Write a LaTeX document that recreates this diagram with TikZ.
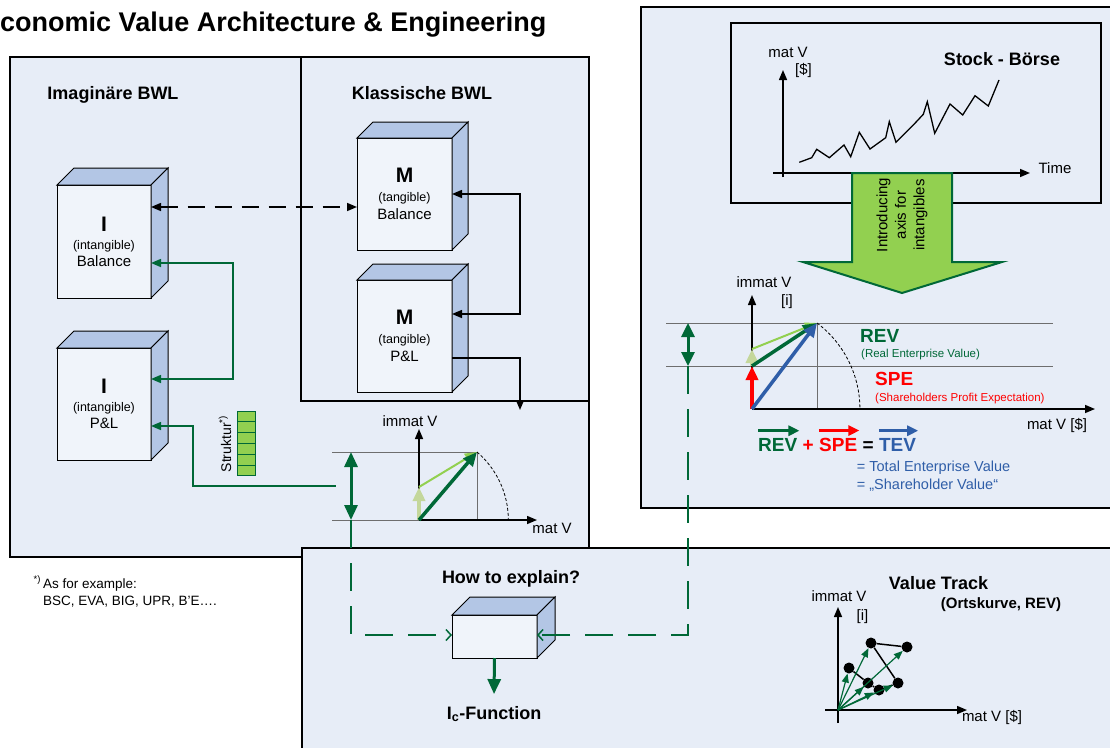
\documentclass[tikz,border=0pt]{standalone}
\usepackage{fontspec}
\setmainfont{Liberation Sans}
\usepackage{tikz}
\usetikzlibrary{arrows.meta, calc, positioning}

\definecolor{panelbg}{RGB}{231,237,247}
\definecolor{cubefront}{RGB}{240,244,250}
\definecolor{cubeside}{RGB}{179,198,229}
\definecolor{darkgreen}{RGB}{0,104,55}
\definecolor{lightgreen}{RGB}{146,208,80}
\definecolor{palegreen}{RGB}{196,215,155}
\definecolor{tevblue}{RGB}{47,94,168}
\definecolor{linegray}{RGB}{110,110,110}

\newcommand{\fs}[1]{\fontsize{#1}{17pt}\selectfont}
\newcommand{\cubeback}[2]{%
    \filldraw[fill=cubeside, draw=black, line width=1pt] (#1.north west) -- ++(#2,-#2) -- ($(#1.north east)+(#2,-#2)$) -- (#1.north east) -- cycle;
    \filldraw[fill=cubeside, draw=black, line width=1pt] (#1.north east) -- ($(#1.north east)+(#2,-#2)$) -- ($(#1.south east)+(#2,-#2)$) -- (#1.south east) -- cycle;
}

\tikzset{
    panel/.style={draw=black, fill=panelbg, line width=1.2pt},
    cube/.style={draw=black, fill=cubefront, line width=1pt, inner sep=0pt, outer sep=0pt, align=center, font=\fs{15}},
    heading/.style={font=\fs{18}\bfseries},
    axislabel/.style={font=\fs{15}},
    vector/.style={line width=3.5pt, -{Triangle[length=14pt, width=12pt]}},
    gdash/.style={darkgreen, line width=1.5pt, dash pattern=on 28pt off 15pt, -{Straight Barb[length=5pt, width=11pt]}},
    dot/.style={circle, fill=black, inner sep=0pt, minimum size=11pt},
    eqpart/.style={inner sep=0pt, font=\fs{19}\bfseries}
}

\begin{document}
\begin{tikzpicture}[x=1pt, y=-1pt, >={Triangle[length=10pt, width=8pt]}]
    \useasboundingbox (0,0) rectangle (1110,747);
    \def \cubeDepth {17}
    % Panels
    \draw[panel] (10,57) rectangle (589,557);
    \draw[line width=1.2pt] (301,57) rectangle (589,401);
    \draw[panel] (641,7) rectangle (1120,508);
    \draw[panel] (302,548) rectangle (1120,760);
    \draw[line width=1.2pt] (731,23) rectangle (1101,203);

    % Title and headings
    \node[anchor=base west, inner sep=0pt, font=\fs{27}\bfseries] (title) at (0,31) {conomic Value Architecture \& Engineering};
    \node[heading] (imagHead) at (113,95) {Imaginäre BWL};
    \node[heading] (klassHead) at (422,93) {Klassische BWL};

    % Cubes
    \node[cube, minimum width=94pt, minimum height=113pt] (iBal) at (104,241.5) {{\fs{21}\bfseries I}\\[1pt]{\fs{12.5}(intangible)}\\Balance};
    \cubeback{iBal}{\cubeDepth}
    \node[cube, minimum width=94pt, minimum height=112pt] (iPL) at (104,404) {{\fs{21}\bfseries I}\\[1pt]{\fs{12.5}(intangible)}\\P\&L};
    \cubeback{iPL}{\cubeDepth}
    \node[cube, minimum width=95pt, minimum height=112pt] (mBal) at (404.5,194) {{\fs{21}\bfseries M}\\[2pt]{\fs{12.5}(tangible)}\\[0.7pt]Balance};
    \cubeback{mBal}{16}
    \node[cube, minimum width=95pt, minimum height=112pt] (mPL) at (404.5,336) {{\fs{21}\bfseries M}\\[2pt]{\fs{12.5}(tangible)}\\[0.7pt]P\&L};
    \cubeback{mPL}{16}

    % Connectors between the cubes
    \draw[line width=1.5pt, dash pattern=on 17pt off 10pt, <->] ([yshift=34.5pt]iBal.east) -- ([yshift=-13pt]mBal.west);
    \draw[line width=1.5pt, <->] (mBal.east) -- ++(68,0) |- ([yshift=22pt]mPL.east);
    \coordinate (klassOut) at (520,410);
    \draw[line width=1.5pt, ->] ([yshift=-22pt]mPL.east) -| (klassOut);
    \draw[darkgreen, line width=1.5pt, <->] ([yshift=-21.5pt]iBal.east) -- ++(82,0) |- ([yshift=25pt]iPL.east);
    \coordinate (chartLink) at (336,486);
    \draw[darkgreen, line width=1.5pt, <-] ([yshift=-22pt]iPL.east) -- ++(42,0) |- (chartLink);

    % Struktur bar
    \foreach \i in {0,...,5}
        \draw[fill=lightgreen, draw=darkgreen, line width=1pt] (237,{411+\i*10.8}) rectangle ++(18,10.8);
    \node[rotate=90, font=\fs{14}] (strukLabel) at (225,444) {Struktur\textsuperscript{*)}};

    % Small chart (left)
    \coordinate (mO) at (419,520);
    \coordinate (mTip) at (477,452);
    \coordinate (mPale) at (419,487);
    \coordinate (mHi) at (351,452);
    \coordinate (mLo) at (351,520);
    \draw[linegray, line width=1pt] (332,452) -- (mTip) -- (477,520);
    \draw[linegray, line width=1pt] (332,520) -- (mO);
    \draw[line width=0.8pt, dash pattern=on 3pt off 2pt] (mTip) arc[start angle=-49.5, end angle=0, radius=89.4];
    \draw[line width=1.5pt, ->] (mO) -- (419,429);
    \draw[line width=1.5pt, ->] (mO) -- (537,520);
    \draw[palegreen, vector] (mO) -- (mPale);
    \draw[lightgreen, line width=2pt, -{Triangle[length=12pt, width=10pt]}] (mPale) -- (mTip);
    \draw[darkgreen, vector] (mO) -- (mTip);
    \draw[darkgreen, line width=3pt, {Triangle[length=15pt, width=13pt]}-{Triangle[length=15pt, width=13pt]}] (mHi) -- (mLo);
    \node[axislabel] (mYLabel) at (410,421) {immat V};
    \node[axislabel] (mXLabel) at (552,528) {mat V};

    % Footnote
    \node[anchor=base west, inner sep=0pt, font=\fs{13.5}] (footOne) at (43,588) {\llap{\textsuperscript{*)}\,}As for example:};
    \node[anchor=base west, inner sep=0pt, font=\fs{13.5}] (footTwo) at (43,605) {BSC, EVA, BIG, UPR, B’E….};

    % Stock chart
    \draw[line width=1.5pt, ->] (783,177) -- (783,70);
    \draw[line width=1.5pt, ->] (773,173) -- (1030,173);
    \draw[line width=1.3pt] (799.3,162.3) -- (811.7,157.7) -- (816.7,149.3) -- (829.3,157.7) -- (844,145) -- (850.7,156.7) -- (859.3,132.3) -- (870,149) -- (885.7,137.7) -- (889.3,121.7) -- (896,142.3) -- (913.3,125) -- (923.3,114.3) -- (927.3,101.7) -- (934.7,133.3) -- (950,104) -- (962.7,115) -- (975,95.7) -- (988.3,106) -- (999,80);
    \node[axislabel] (sYLabel) at (788,52) {mat V};
    \node[axislabel] (sYUnit) at (803.5,70.5) {[\$]};
    \node[axislabel] (sXLabel) at (1055,168) {Time};
    \node[heading] (stockHead) at (1002,59) {Stock - Börse};
    % Big arrow
    \filldraw[fill=lightgreen, draw=darkgreen, line width=2pt] (852,173) -- (952,173) -- (952,262) -- (1002,262) -- (902,293) -- (803,262) -- (852,262) -- cycle;
    \node[rotate=90, align=center, font=\fontsize{15}{18.5}\selectfont] (introText) at (902,215) {Introducing\\axis for\\intangibles};

    % Vector chart (right)
    \coordinate (rO) at (752,409);
    \coordinate (rTip) at (817,323);
    \coordinate (rSpe) at (752,366);
    \coordinate (rPale) at (752,349);
    \coordinate (rHi) at (688,323);
    \coordinate (rLo) at (688,366);
    \draw[linegray, line width=1pt] (666,323) -- (1053,323);
    \draw[linegray, line width=1pt] (666,366) -- (1053,366);
    \draw[linegray, line width=1pt] (rTip) -- (817,409);
    \draw[line width=0.8pt, dash pattern=on 3pt off 2pt] (rTip) arc[start angle=-53, end angle=0, radius=107.8];
    \draw[line width=1.5pt, ->] (rO) -- (752,295);
    \draw[line width=1.5pt, ->] (rO) -- (1095,409);
    \draw[red, vector] (rO) -- (rSpe);
    \draw[palegreen, vector] (rSpe) -- (rPale);
    \draw[lightgreen, line width=2pt, -{Triangle[length=12pt, width=10pt]}] (rPale) -- (rTip);
    \draw[darkgreen, vector] (rSpe) -- (rTip);
    \draw[tevblue, vector] (rO) -- (rTip);
    \draw[darkgreen, line width=3pt, {Triangle[length=14pt, width=13pt]}-{Triangle[length=14pt, width=13pt]}] (rHi) -- (rLo);
    \node[axislabel] (rYLabel) at (764,282) {immat V};
    \node[axislabel] (rYUnit) at (787,302) {[i]};
    \node[axislabel] (rXLabel) at (1057,425) {mat V [\$]};
    \node[anchor=west, inner sep=0pt, font=\fs{19}\bfseries, text=darkgreen] (revLabel) at (860,336) {REV};
    \node[anchor=west, inner sep=0pt, font=\fs{11.5}, text=darkgreen] (revText) at (861,355) {(Real Enterprise Value)};
    \node[anchor=west, inner sep=0pt, font=\fs{19}\bfseries, text=red] (speLabel) at (875,379) {SPE};
    \node[anchor=west, inner sep=0pt, font=\fs{11.5}, text=red] (speText) at (875,399) {(Shareholders Profit Expectation)};

    % Equation
    \node[eqpart, anchor=base west, text=darkgreen] (eqRev) at (758,451) {REV};
    \node[eqpart, base right=5pt of eqRev, text=red] (eqPlus) {+};
    \node[eqpart, base right=5pt of eqPlus, text=red] (eqSpe) {SPE};
    \node[eqpart, base right=5pt of eqSpe] (eqIs) {=};
    \node[eqpart, base right=5pt of eqIs, text=tevblue] (eqTev) {TEV};
    \draw[darkgreen, line width=3pt, -{Triangle[length=11pt, width=10pt]}] ([yshift=7pt]eqRev.north west) -- ([xshift=2pt, yshift=7pt]eqRev.north east);
    \draw[red, line width=3pt, -{Triangle[length=11pt, width=10pt]}] ([yshift=7pt]eqSpe.north west) -- ([xshift=2pt, yshift=7pt]eqSpe.north east);
    \draw[tevblue, line width=3pt, -{Triangle[length=11pt, width=10pt]}] ([yshift=7pt]eqTev.north west) -- ([xshift=2pt, yshift=7pt]eqTev.north east);
    \node[anchor=base west, inner sep=0pt, font=\fs{14.5}, text=tevblue] (tevOne) at (856.7,471.7) {= Total Enterprise Value};
    \node[anchor=base west, inner sep=0pt, font=\fs{14.5}, text=tevblue] (tevTwo) at (856.7,489) {= „Shareholder Value“};

    % How to explain
    \node[heading] (howHead) at (511,579) {How to explain?};
    \node[cube, minimum width=85pt, minimum height=43pt] (howBox) at (494.5,636.5) {};
    \cubeback{howBox}{18}
    \node[anchor=base, inner sep=0pt, font=\fs{18}\bfseries] (icLabel) at (494,719) {I\textsubscript{c}-Function};
    \draw[darkgreen, line width=3pt, -{Triangle[length=15pt, width=13pt]}] (howBox.south) -- ([yshift=11.7pt]icLabel.north);
    \draw[gdash] (mLo) |- ([yshift=1.5pt]howBox.west);
    \draw[gdash] (rLo) |- ([yshift=1.5pt]howBox.east);

    % Value track
    \node[heading] (trackHead) at (938.5,583) {Value Track};
    \node[font=\fs{15}\bfseries] (trackSub) at (1001,605) {(Ortskurve, REV)};
    \draw[line width=1.5pt, ->] (838,723) -- (838,607);
    \draw[line width=1.5pt, ->] (825,710) -- (967,710);
    \node[axislabel] (vYLabel) at (839,596) {immat V};
    \node[axislabel] (vYUnit) at (862.5,617) {[i]};
    \node[axislabel] (vXLabel) at (992,717.5) {mat V [\$]};
    \coordinate (vtO) at (838,710);
    \node[dot] (vA) at (849,668) {};
    \node[dot] (vB) at (868,683) {};
    \node[dot] (vC) at (879,690) {};
    \node[dot] (vD) at (898,683) {};
    \node[dot] (vE) at (871,643) {};
    \node[dot] (vF) at (907,647) {};
    \draw[line width=1.5pt] (vA) -- (vB) -- (vC) -- (vD) -- (vE) -- (vF);
    \foreach \p in {vA,vB,vC,vD,vE,vF}
        \draw[darkgreen, line width=1.2pt, -{Triangle[length=9pt, width=7pt]}] (vtO) -- (\p);
\end{tikzpicture}
\end{document}
